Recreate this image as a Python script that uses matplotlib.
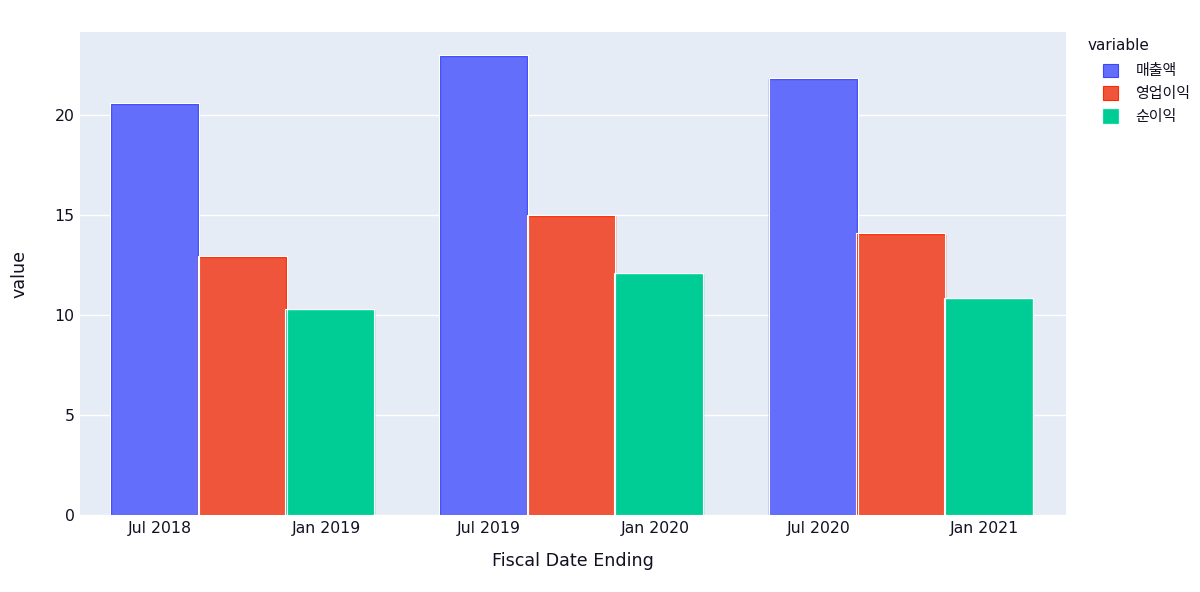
import numpy as np
import matplotlib.pyplot as plt
import matplotlib.dates as mdates
from matplotlib.patches import Patch
import datetime as dt

plt.rcParams['font.family'] = ['DejaVu Sans', 'Noto Sans CJK KR']

dates = [dt.date(2018, 9, 30), dt.date(2019, 9, 30), dt.date(2020, 9, 30)]
series = ['매출액', '영업이익', '순이익']
revenue = [20.55, 22.95, 21.8]
op_income = [12.9, 14.95, 14.05]
net_income = [10.25, 12.05, 10.8]

colors = ['#636efa', '#ef553b', '#00cc96']
edges = ['#3b47ff', '#ff2a00', '#19d9a3']
txt = '#111122'

fig = plt.figure(figsize=[12, 5.92], dpi=100)
ax = fig.add_axes([80/1200, 1 - 515/592, (1065.7 - 80)/1200, (515 - 32)/592])
ax.set_facecolor('#e5ecf6')

x = mdates.date2num(dates)
group = 0.8 * 365
w = group / 3
for i, vals in enumerate([revenue, op_income, net_income]):
    pos = x - group/2 + w/2 + i*w
    ax.bar(pos, vals, width=w, color=colors[i], edgecolor=edges[i], linewidth=1.0, zorder=2)
    # thin white outline just outside each bar
    ax.bar(pos, np.array(vals) + 0.04, width=w + 1.2, fill=False, edgecolor='white',
           linewidth=0.8, zorder=3)

ax.set_xlim(mdates.date2num(dt.date(2018, 4, 3)), mdates.date2num(dt.date(2021, 4, 1)))
ax.set_ylim(0, 24.15)
ax.xaxis.set_major_locator(mdates.MonthLocator(bymonth=[1, 7]))
ax.xaxis.set_major_formatter(mdates.DateFormatter('%b %Y'))
ax.set_yticks([0, 5, 10, 15, 20])
ax.grid(axis='y', color='white', linewidth=1, zorder=0)
ax.set_axisbelow(True)
for s in ax.spines.values():
    s.set_visible(False)
ax.tick_params(length=0, labelsize=11.3, labelcolor=txt, pad=4)
ax.set_xlabel('Fiscal Date Ending', fontsize=12.6, color=txt)
ax.set_ylabel('value', fontsize=12.6, color=txt)
ax.xaxis.set_label_coords(0.5, -0.077)
ax.yaxis.set_label_coords(-0.052, 0.5)

fig.text(1088/1200, 1 - 46/592, 'variable', fontsize=11, color=txt, va='center', ha='left')
handles = [Patch(facecolor=colors[i], edgecolor=edges[i], linewidth=0.8) for i in range(3)]
leg = fig.legend(handles, series, loc='upper left',
                 bbox_to_anchor=(1092/1200, 1 - 53/592), frameon=False,
                 fontsize=10.8, handlelength=1.0, handleheight=1.0,
                 handletextpad=1.2, labelspacing=0.52, borderpad=0.2)
for t in leg.get_texts():
    t.set_color(txt)

fig.savefig('out.png', dpi=100, facecolor='white')
